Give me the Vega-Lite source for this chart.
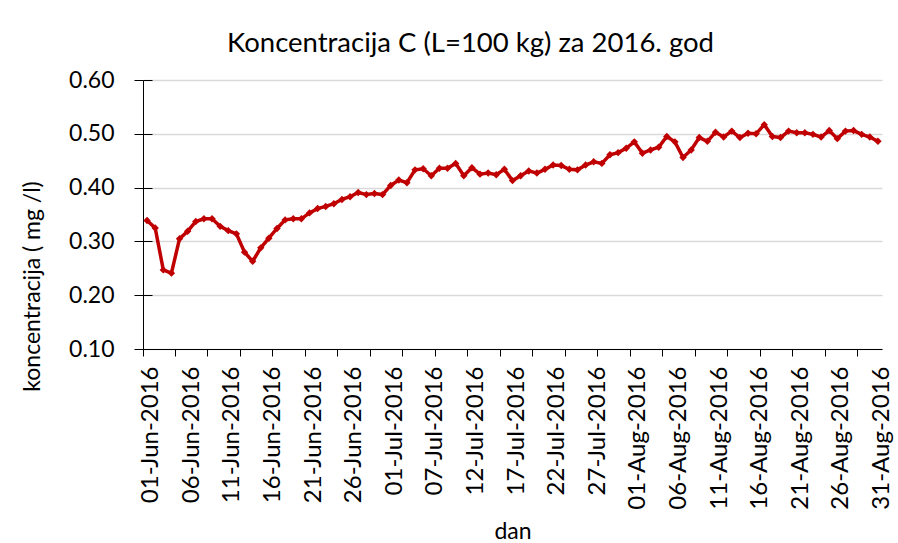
{
  "$schema": "https://vega.github.io/schema/vega-lite/v6.json",
  "autosize": {"type": "none"},
  "width": 739,
  "height": 269,
  "padding": {"left": 143, "top": 80, "right": 16, "bottom": 194},
  "background": "white",
  "config": {"font": "Lato", "view": {"stroke": null}},
  "title": {
    "text": "Koncentracija C (L=100 kg) za 2016. god",
    "font": "Lato", "fontSize": 27.5, "fontWeight": "normal", "color": "#000000",
    "frame": "group", "anchor": "middle", "dx": -42, "dy": 25, "baseline": "alphabetic", "offset": 15
  },
  "data": {"values": [
    {"dan": "01-Jun-2016", "c": 0.339}, {"dan": "02-Jun-2016", "c": 0.325}, {"dan": "03-Jun-2016", "c": 0.247},
    {"dan": "04-Jun-2016", "c": 0.241}, {"dan": "05-Jun-2016", "c": 0.305}, {"dan": "06-Jun-2016", "c": 0.319},
    {"dan": "07-Jun-2016", "c": 0.337}, {"dan": "08-Jun-2016", "c": 0.342}, {"dan": "09-Jun-2016", "c": 0.342},
    {"dan": "10-Jun-2016", "c": 0.328}, {"dan": "11-Jun-2016", "c": 0.320}, {"dan": "12-Jun-2016", "c": 0.314},
    {"dan": "13-Jun-2016", "c": 0.280}, {"dan": "14-Jun-2016", "c": 0.263}, {"dan": "15-Jun-2016", "c": 0.288},
    {"dan": "16-Jun-2016", "c": 0.306}, {"dan": "17-Jun-2016", "c": 0.324}, {"dan": "18-Jun-2016", "c": 0.340},
    {"dan": "19-Jun-2016", "c": 0.342}, {"dan": "20-Jun-2016", "c": 0.342}, {"dan": "21-Jun-2016", "c": 0.353},
    {"dan": "22-Jun-2016", "c": 0.361}, {"dan": "23-Jun-2016", "c": 0.365}, {"dan": "24-Jun-2016", "c": 0.370},
    {"dan": "25-Jun-2016", "c": 0.378}, {"dan": "26-Jun-2016", "c": 0.383}, {"dan": "27-Jun-2016", "c": 0.391},
    {"dan": "28-Jun-2016", "c": 0.387}, {"dan": "29-Jun-2016", "c": 0.389}, {"dan": "30-Jun-2016", "c": 0.387},
    {"dan": "01-Jul-2016", "c": 0.404}, {"dan": "02-Jul-2016", "c": 0.414}, {"dan": "03-Jul-2016", "c": 0.409},
    {"dan": "04-Jul-2016", "c": 0.433}, {"dan": "05-Jul-2016", "c": 0.435}, {"dan": "07-Jul-2016", "c": 0.422},
    {"dan": "08-Jul-2016", "c": 0.436}, {"dan": "09-Jul-2016", "c": 0.436}, {"dan": "10-Jul-2016", "c": 0.445},
    {"dan": "11-Jul-2016", "c": 0.422}, {"dan": "12-Jul-2016", "c": 0.437}, {"dan": "13-Jul-2016", "c": 0.425},
    {"dan": "14-Jul-2016", "c": 0.427}, {"dan": "15-Jul-2016", "c": 0.424}, {"dan": "16-Jul-2016", "c": 0.434},
    {"dan": "17-Jul-2016", "c": 0.413}, {"dan": "18-Jul-2016", "c": 0.422}, {"dan": "19-Jul-2016", "c": 0.431},
    {"dan": "20-Jul-2016", "c": 0.427}, {"dan": "21-Jul-2016", "c": 0.434}, {"dan": "22-Jul-2016", "c": 0.442},
    {"dan": "23-Jul-2016", "c": 0.441}, {"dan": "24-Jul-2016", "c": 0.434}, {"dan": "25-Jul-2016", "c": 0.433},
    {"dan": "26-Jul-2016", "c": 0.442}, {"dan": "27-Jul-2016", "c": 0.448}, {"dan": "28-Jul-2016", "c": 0.445},
    {"dan": "29-Jul-2016", "c": 0.461}, {"dan": "30-Jul-2016", "c": 0.465}, {"dan": "31-Jul-2016", "c": 0.473},
    {"dan": "01-Aug-2016", "c": 0.485}, {"dan": "02-Aug-2016", "c": 0.464}, {"dan": "03-Aug-2016", "c": 0.470},
    {"dan": "04-Aug-2016", "c": 0.475}, {"dan": "05-Aug-2016", "c": 0.495}, {"dan": "06-Aug-2016", "c": 0.485},
    {"dan": "07-Aug-2016", "c": 0.456}, {"dan": "08-Aug-2016", "c": 0.470}, {"dan": "09-Aug-2016", "c": 0.493},
    {"dan": "10-Aug-2016", "c": 0.486}, {"dan": "11-Aug-2016", "c": 0.503}, {"dan": "12-Aug-2016", "c": 0.494},
    {"dan": "13-Aug-2016", "c": 0.505}, {"dan": "14-Aug-2016", "c": 0.493}, {"dan": "15-Aug-2016", "c": 0.501},
    {"dan": "16-Aug-2016", "c": 0.500}, {"dan": "17-Aug-2016", "c": 0.517}, {"dan": "18-Aug-2016", "c": 0.495},
    {"dan": "19-Aug-2016", "c": 0.493}, {"dan": "20-Aug-2016", "c": 0.505}, {"dan": "21-Aug-2016", "c": 0.502},
    {"dan": "22-Aug-2016", "c": 0.502}, {"dan": "23-Aug-2016", "c": 0.499}, {"dan": "24-Aug-2016", "c": 0.494},
    {"dan": "25-Aug-2016", "c": 0.506}, {"dan": "26-Aug-2016", "c": 0.491}, {"dan": "27-Aug-2016", "c": 0.505},
    {"dan": "28-Aug-2016", "c": 0.506}, {"dan": "29-Aug-2016", "c": 0.499}, {"dan": "30-Aug-2016", "c": 0.494},
    {"dan": "31-Aug-2016", "c": 0.486}
  ]},
  "encoding": {
    "x": {
      "field": "dan", "type": "ordinal", "sort": null, "bandPosition": 0.5,
      "scale": {"type": "band", "paddingInner": 0, "paddingOuter": 0},
      "axis": {
        "title": "dan",
        "values": ["01-Jun-2016", "05-Jun-2016", "06-Jun-2016", "09-Jun-2016", "11-Jun-2016", "13-Jun-2016", "16-Jun-2016", "17-Jun-2016", "21-Jun-2016", "25-Jun-2016", "26-Jun-2016", "29-Jun-2016", "01-Jul-2016", "03-Jul-2016", "07-Jul-2016", "08-Jul-2016", "12-Jul-2016", "16-Jul-2016", "17-Jul-2016", "20-Jul-2016", "22-Jul-2016", "24-Jul-2016", "27-Jul-2016", "28-Jul-2016", "01-Aug-2016", "05-Aug-2016", "06-Aug-2016", "09-Aug-2016", "11-Aug-2016", "13-Aug-2016", "16-Aug-2016", "17-Aug-2016", "21-Aug-2016", "25-Aug-2016", "26-Aug-2016", "29-Aug-2016", "31-Aug-2016"],
        "bandPosition": 0,
        "labelOffset": 4.06,
        "labelAngle": -90,
        "labelFont": "Lato", "labelFontSize": 24, "labelColor": "#000000", "labelPadding": 10,
        "labelOverlap": false, "labelBound": false,
        "labelOpacity": {"condition": {"test": "indexof(['01-Jun-2016','06-Jun-2016','11-Jun-2016','16-Jun-2016','21-Jun-2016','26-Jun-2016','01-Jul-2016','07-Jul-2016','12-Jul-2016','17-Jul-2016','22-Jul-2016','27-Jul-2016','01-Aug-2016','06-Aug-2016','11-Aug-2016','16-Aug-2016','21-Aug-2016','26-Aug-2016','31-Aug-2016'], datum.value) >= 0", "value": 1}, "value": 0},
        "tickOpacity": {"condition": {"test": "indexof(['01-Jun-2016','05-Jun-2016','09-Jun-2016','13-Jun-2016','17-Jun-2016','21-Jun-2016','25-Jun-2016','29-Jun-2016','03-Jul-2016','08-Jul-2016','12-Jul-2016','16-Jul-2016','20-Jul-2016','24-Jul-2016','28-Jul-2016','01-Aug-2016','05-Aug-2016','09-Aug-2016','13-Aug-2016','17-Aug-2016','21-Aug-2016','25-Aug-2016','29-Aug-2016'], datum.value) >= 0", "value": 1}, "value": 0},
        "tickSize": 7, "tickColor": "#000000", "tickWidth": 1,
        "domainColor": "#000000", "domainWidth": 1,
        "grid": false,
        "titleFont": "Lato", "titleFontSize": 23, "titleFontWeight": "normal", "titleColor": "#000000",
        "titleBaseline": "alphabetic", "titleY": 189
      }
    }
  },
  "layer": [
    {
      "mark": {"type": "line", "color": "#C00000", "strokeWidth": 3.5,
        "point": {"shape": "diamond", "filled": true, "size": 55, "color": "#C00000"}},
      "encoding": {
        "y": {
          "field": "c", "type": "quantitative",
          "scale": {"domain": [0.1, 0.6], "zero": false, "nice": false},
          "axis": {
            "orient": "left",
            "title": "koncentracija ( mg /l)",
            "values": [0.1, 0.2, 0.3, 0.4, 0.5, 0.6],
            "format": ".2f",
            "tickSize": 9, "tickColor": "#000000", "tickWidth": 1,
            "labelPadding": 20, "labelFont": "Lato", "labelFontSize": 23, "labelColor": "#000000",
            "domainColor": "#000000", "domainWidth": 1,
            "grid": true, "gridColor": "#D9D9D9", "gridWidth": 1.3,
            "titleFont": "Lato", "titleFontSize": 23, "titleFontWeight": "normal", "titleColor": "#000000",
            "titleAngle": -90, "titleAlign": "center", "titleBaseline": "middle",
            "titleX": -111, "titleY": 206
          }
        }
      }
    },
    {
      "mark": {"type": "point", "opacity": 0},
      "encoding": {
        "y": {
          "field": "c", "type": "quantitative",
          "axis": {
            "orient": "left", "title": null, "labels": false, "grid": false, "domain": false,
            "values": [0.1, 0.2, 0.3, 0.4, 0.5, 0.6],
            "tickSize": -9, "tickColor": "#000000", "tickWidth": 1
          }
        }
      }
    }
  ],
  "resolve": {"axis": {"y": "independent"}}
}
